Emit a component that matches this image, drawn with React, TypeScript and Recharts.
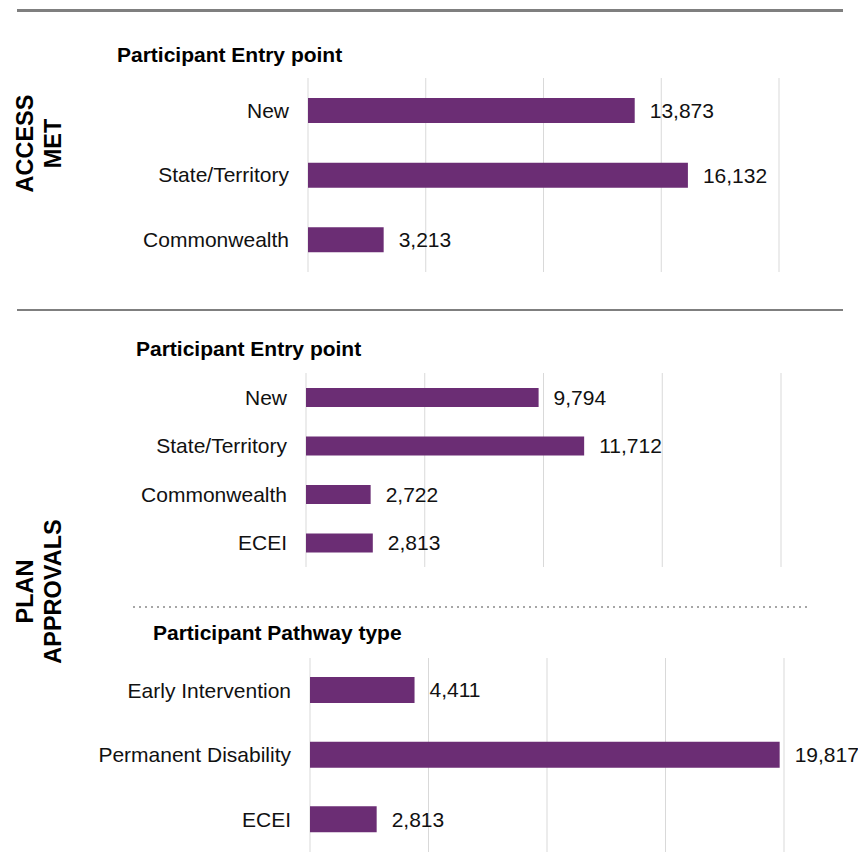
import React from "react";
import { BarChart, Bar, XAxis, YAxis, CartesianGrid, LabelList } from "recharts";

const accessCategories = ["New", "State/Territory", "Commonwealth"];
const accessValues = [13873, 16132, 3213];

const entryCategories = ["New", "State/Territory", "Commonwealth", "ECEI"];
const entryValues = [9794, 11712, 2722, 2813];

const pathwayCategories = ["Early Intervention", "Permanent Disability", "ECEI"];
const pathwayValues = [4411, 19817, 2813];

const xTicks = [0, 5000, 10000, 15000, 20000];

const FONT = "'Liberation Sans', Arial, sans-serif";
const PURPLE = "#6B2D74";

const toRows = (cats: string[], vals: number[]) =>
  cats.map((name, i) => ({ name, value: vals[i] }));

function HBar({ data, top, axisX, rightX, height, barSize }: any) {
  return (
    <div style={{ position: "absolute", left: 0, top, width: 858, height }}>
      <BarChart
        width={858}
        height={height}
        data={data}
        layout="vertical"
        margin={{ top: 0, right: 858 - rightX, left: 0, bottom: 0 }}
        barSize={barSize}
      >
        <CartesianGrid horizontal={false} stroke="#d9d9d9" />
        <XAxis type="number" domain={[0, 20000]} ticks={xTicks} hide />
        <YAxis
          type="category"
          dataKey="name"
          width={axisX}
          axisLine={false}
          tickLine={false}
          tickMargin={13}
          interval={0}
          tick={{ fill: "#111", fontSize: 21, fontFamily: FONT }}
        />
        <Bar dataKey="value" fill={PURPLE} isAnimationActive={false}>
          <LabelList
            dataKey="value"
            position="right"
            offset={15}
            formatter={(v: any) => Number(v).toLocaleString("en-US")}
            style={{ fill: "#111", fontSize: 21, fontFamily: FONT }}
          />
        </Bar>
      </BarChart>
    </div>
  );
}

const titleStyle: React.CSSProperties = {
  position: "absolute",
  fontFamily: FONT,
  fontWeight: "bold",
  fontSize: 21,
  lineHeight: "21px",
  color: "#000",
  whiteSpace: "nowrap",
};

function SideLabel({ lines, cx, cy }: { lines: string[]; cx: number; cy: number }) {
  const w = 200;
  const h = 55;
  return (
    <div
      style={{
        position: "absolute",
        left: cx - w / 2,
        top: cy - h / 2,
        width: w,
        height: h,
        transform: "rotate(-90deg)",
        textAlign: "center",
        fontFamily: FONT,
        fontWeight: "bold",
        fontSize: 23.5,
        lineHeight: "27.5px",
        color: "#000",
      }}
    >
      {lines.map((l) => (
        <div key={l}>{l}</div>
      ))}
    </div>
  );
}

export default function App() {
  return (
    <div
      style={{
        position: "absolute",
        left: 0,
        top: 0,
        width: 858,
        height: 866,
        background: "#fff",
        overflow: "hidden",
      }}
    >
      <div style={{ position: "absolute", left: 17, top: 9, width: 826, height: 2.5, background: "#7f7f7f" }} />
      <div style={{ position: "absolute", left: 17, top: 308.5, width: 826, height: 2.5, background: "#7f7f7f" }} />
      <svg style={{ position: "absolute", left: 0, top: 0 }} width={858} height={866}>
        <line x1={133} y1={607} x2={810} y2={607} stroke="#a6a6a6" strokeWidth={2} strokeDasharray="2 4" />
      </svg>

      <SideLabel lines={["ACCESS", "MET"]} cx={39} cy={143} />
      <SideLabel lines={["PLAN", "APPROVALS"]} cx={39} cy={591} />

      <div style={{ ...titleStyle, left: 117, top: 44 }}>Participant Entry point</div>
      <div style={{ ...titleStyle, left: 136, top: 338 }}>Participant Entry point</div>
      <div style={{ ...titleStyle, left: 153, top: 622 }}>Participant Pathway type</div>

      <HBar data={toRows(accessCategories, accessValues)} top={78} axisX={308} rightX={779} height={194} barSize={25} />
      <HBar data={toRows(entryCategories, entryValues)} top={373} axisX={306} rightX={781} height={194} barSize={19} />
      <HBar data={toRows(pathwayCategories, pathwayValues)} top={658} axisX={310} rightX={784} height={194} barSize={26} />
    </div>
  );
}
